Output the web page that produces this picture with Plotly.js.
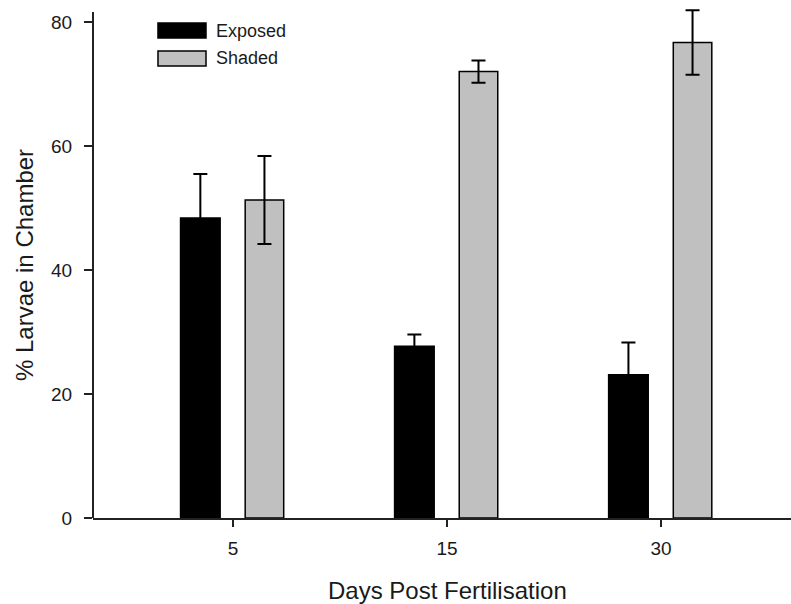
<!DOCTYPE html>
<html>
<head>
<meta charset="utf-8">
<script src="https://cdn.plot.ly/plotly-3.0.1.min.js"></script>
<style>
  html, body { margin: 0; padding: 0; background: #ffffff; }
  #chart { width: 791px; height: 604px; }
</style>
</head>
<body>
<div id="chart"></div>
<script>
// Days post fertilisation (categories on the x axis)
const days = ['5', '15', '30'];

// Mean % of larvae found in each chamber
const exposed = [48.4, 27.7, 23.1];
const shaded = [51.3, 72.0, 76.7];

// Error bar half-lengths
const exposedErr = [7.1, 1.9, 5.2];
const shadedErr = [7.1, 1.8, 5.2];

const yTicks = [0, 20, 40, 60, 80];

// The drawn y axis spine stops a little above the last tick,
// while the plotting range leaves headroom for the tallest error bar.
const yAxisTop = 81.6;
const yRangeTop = 83.06;

const FONT = 'Liberation Sans, Arial, sans-serif';
const INK = '#1a1a1a';
const AXIS = '#222222';

const barLine = { color: '#000000', width: 1.5 };

const traces = [
  {
    type: 'bar',
    name: 'Exposed',
    x: days,
    y: exposed,
    width: 0.185,
    offset: -0.245,
    marker: { color: '#000000', line: barLine },
    error_y: { type: 'data', array: exposedErr, visible: true, color: '#000000', thickness: 2, width: 7 },
    showlegend: false,
    hoverinfo: 'x+y'
  },
  {
    type: 'bar',
    name: 'Shaded',
    x: days,
    y: shaded,
    width: 0.18,
    offset: 0.057,
    marker: { color: '#c0c0c0', line: barLine },
    error_y: { type: 'data', array: shadedErr, visible: true, color: '#000000', thickness: 2, width: 7 },
    showlegend: false,
    hoverinfo: 'x+y'
  }
];

// Hand-drawn key in the upper left corner
const keyItems = [
  { label: 'Exposed', fill: '#000000', y0: 0.9320, y1: 0.9612 },
  { label: 'Shaded', fill: '#c0c0c0', y0: 0.8777, y1: 0.9068 }
];

const shapes = keyItems.map(k => ({
  type: 'rect', xref: 'paper', yref: 'paper',
  x0: 0.0931, x1: 0.1619, y0: k.y0, y1: k.y1,
  fillcolor: k.fill, line: { color: '#000000', width: 1.5 }
}));

// y axis spine
shapes.push({
  type: 'line', xref: 'paper', yref: 'y',
  x0: 0, x1: 0, y0: 0, y1: yAxisTop,
  line: { color: AXIS, width: 2 }
});

const annotations = keyItems.map(k => ({
  xref: 'paper', yref: 'paper',
  x: 0.1734, y: (k.y0 + k.y1) / 2,
  xanchor: 'left', yanchor: 'middle',
  text: k.label, showarrow: false,
  font: { family: FONT, size: 18, color: INK }
}));

// Axis titles
annotations.push({
  xref: 'x', yref: 'paper', x: 1, y: 0,
  xanchor: 'center', yanchor: 'middle', yshift: -72,
  text: 'Days Post Fertilisation', showarrow: false,
  font: { family: FONT, size: 24, color: INK }
});
annotations.push({
  xref: 'paper', yref: 'y', x: 0, y: yAxisTop / 2,
  xanchor: 'center', yanchor: 'middle', xshift: -69,
  textangle: -90,
  text: '% Larvae in Chamber', showarrow: false,
  font: { family: FONT, size: 24, color: INK }
});

const layout = {
  width: 791,
  height: 604,
  margin: { l: 93, r: 0, t: 3, b: 86 },
  paper_bgcolor: '#ffffff',
  plot_bgcolor: '#ffffff',
  showlegend: false,
  bargap: 0,
  xaxis: {
    type: 'category',
    range: [-0.654, 2.607],
    showgrid: false,
    zeroline: false,
    showline: true,
    linecolor: AXIS,
    linewidth: 2,
    ticks: 'outside',
    ticklen: 7,
    tickwidth: 2,
    tickcolor: AXIS,
    ticklabelstandoff: 5,
    tickfont: { family: FONT, size: 19, color: INK }
  },
  yaxis: {
    range: [0, yRangeTop],
    tickvals: yTicks,
    ticktext: yTicks.map(String),
    showgrid: false,
    zeroline: false,
    showline: false,
    ticks: 'outside',
    ticklen: 8,
    tickwidth: 2,
    tickcolor: AXIS,
    ticklabelstandoff: 8,
    tickfont: { family: FONT, size: 19, color: INK }
  },
  shapes: shapes,
  annotations: annotations
};

Plotly.newPlot('chart', traces, layout, { displayModeBar: false, staticPlot: true });
</script>
</body>
</html>
